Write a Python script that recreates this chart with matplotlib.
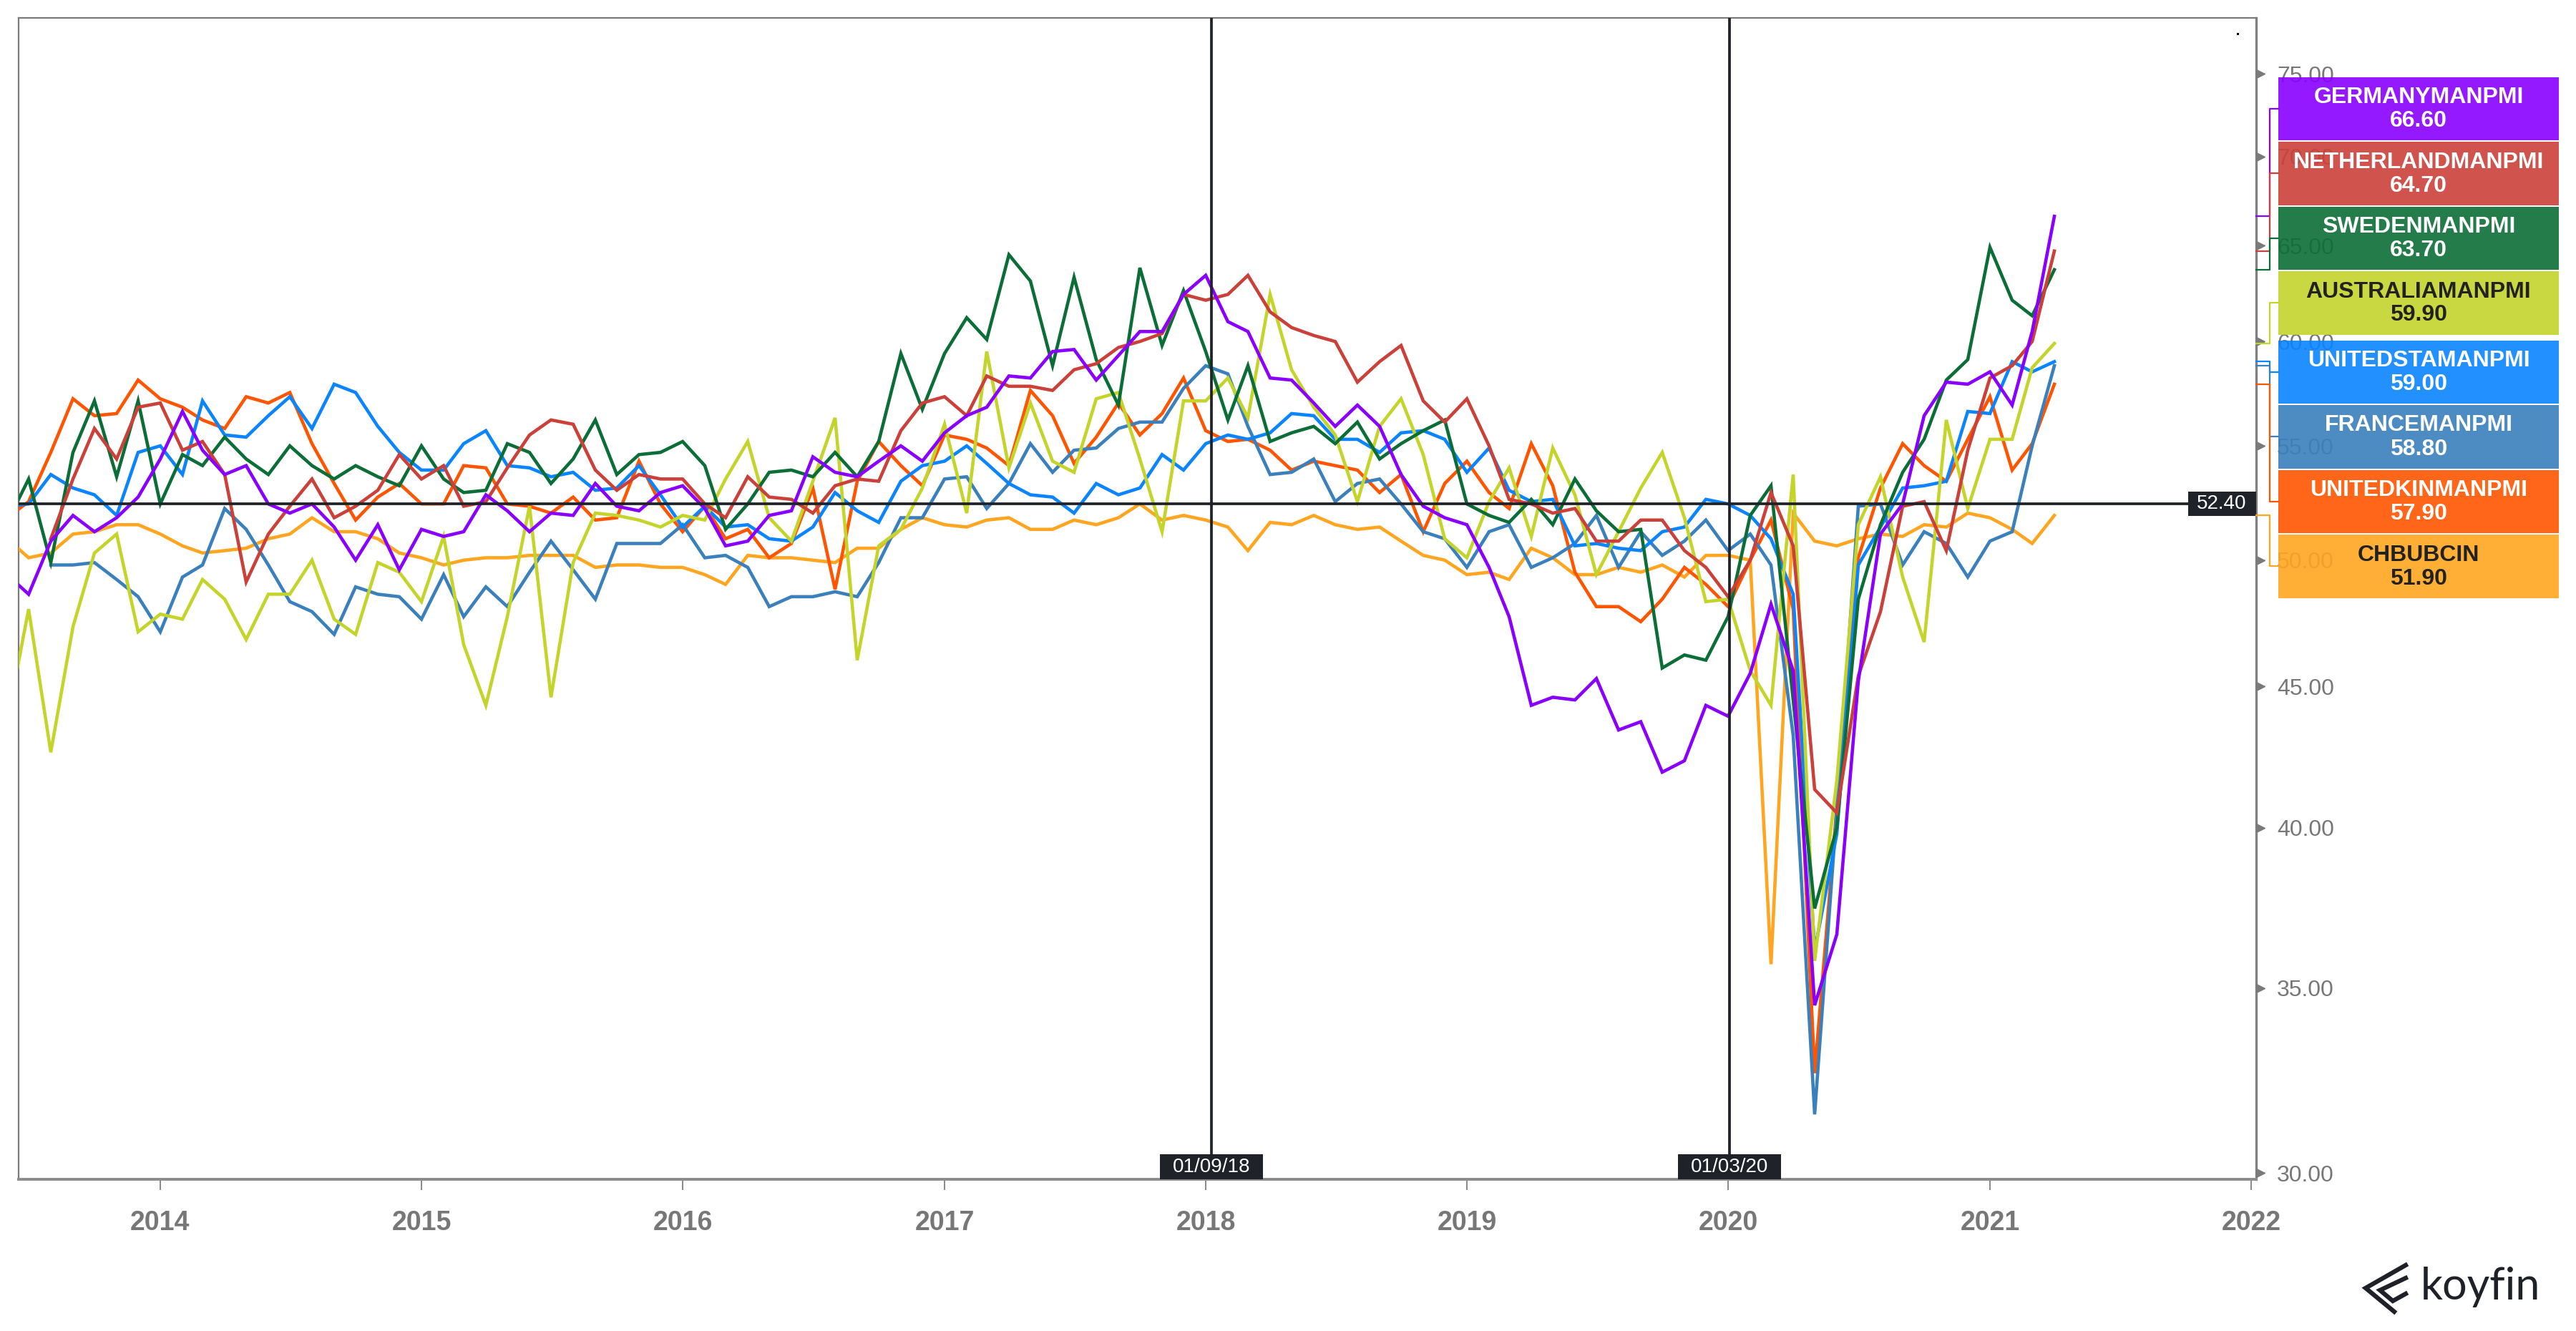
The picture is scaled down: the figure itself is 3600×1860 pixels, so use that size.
import matplotlib
matplotlib.use("Agg")
import matplotlib.pyplot as plt
import matplotlib.dates as mdates
import matplotlib.transforms as mtransforms
from matplotlib.patches import Rectangle
from matplotlib.lines import Line2D
from matplotlib.ticker import NullLocator
import numpy as np
import pandas as pd

plt.rcParams['font.family'] = ['Liberation Sans', 'DejaVu Sans']

W, H = 3600, 1860
nan = np.nan

# monthly readings, Jun 2013 .. Apr 2021
months = pd.date_range('2013-06-01', '2021-04-01', freq='MS')

germany = [49.4, 48.6, 50.8, 51.9, 51.2, 51.8, 52.7,
           54.4, 56.6, 54.8, 53.7, 54.1, 52.4, 52.0, 52.4, 51.4, 50.0, 51.5, 49.6,
           51.3, 51.0, 51.2, 52.8, 52.1, 51.2, 52.0, 51.9, 53.3, 52.3, 52.1, 52.9,
           53.2, 52.2, 50.6, 50.8, 51.9, 52.1, 54.5, 53.8, 53.6, 54.3, 55.0, 54.3,
           55.6, 56.4, 56.8, 58.3, 58.2, 59.5, 59.6, 58.1, 59.3, 60.5, 60.5, 62.4,
           63.4, 61.0, 60.5, 58.2, 58.1, 57.0, 55.9, 56.9, 55.9, 53.7, 52.3, 51.8,
           51.5, 49.7, 47.7, 44.3, 44.6, 44.5, 45.3, 43.4, 43.7, 41.9, 42.3, 44.3,
           43.9, 45.5, 48.2, 45.6, 34.5, 36.6, 45.2, 51.1, 52.4, 56.4, 58.0, 57.9,
           58.5, 56.9, 60.5, 66.6]

netherlands = [nan, nan, 50.9, 53.5, 55.8, 54.4, 56.8,
               57.0, 54.8, 55.2, 53.7, 49.1, 51.1, 52.3, 53.5, 51.8, 52.3, 53.0, 54.6,
               53.5, 54.1, 52.3, 52.5, 54.0, 55.5, 56.2, 56.0, 53.9, 53.0, 53.7, 53.5,
               53.5, 52.4, 51.8, 53.6, 52.7, 52.6, 52.0, 53.2, 53.5, 53.4, 55.7, 57.0,
               57.3, 56.4, 58.3, 57.8, 57.8, 57.6, 58.6, 58.9, 59.7, 60.0, 60.4, 62.4,
               62.1, 62.4, 63.4, 61.5, 60.7, 60.3, 60.0, 58.0, 59.0, 59.8, 57.1, 56.1,
               57.2, 55.0, 52.6, 52.4, 52.0, 52.2, 50.8, 50.8, 51.7, 51.7, 50.4, 49.7,
               48.5, 50.0, 52.9, 50.6, 41.3, 40.5, 45.4, 47.9, 52.3, 52.5, 50.4, 54.8,
               58.2, 58.8, 60.0, 64.7]

sweden = [51.6, 53.5, 49.9, 54.7, 57.1, 53.6, 57.1,
          52.4, 54.6, 54.1, 55.4, 54.4, 53.7, 55.0, 54.1, 53.5, 54.1, 53.6, 53.2,
          55.0, 53.5, 52.9, 53.0, 55.1, 54.7, 53.3, 54.4, 56.2, 53.7, 54.6, 54.7,
          55.2, 54.1, 51.3, 52.4, 53.8, 53.9, 53.6, 54.7, 53.6, 55.2, 59.4, 56.7,
          59.4, 61.2, 60.1, 64.5, 63.1, 58.8, 63.3, 59.1, 56.9, 63.8, 59.8, 62.6,
          59.5, 56.2, 58.8, 55.2, 55.6, 55.9, 55.1, 56.1, 54.4, 55.1, 55.7, 56.2,
          52.4, 51.9, 51.6, 52.6, 51.5, 53.5, 52.1, 51.2, 51.3, 45.7, 46.2, 46.0,
          47.7, 51.9, 53.2, 44.5, 37.4, 40.0, 48.4, 51.5, 53.8, 55.3, 58.1, 59.1,
          64.9, 62.1, 61.3, 63.7]

australia = [43.7, 48.0, 42.6, 47.3, 50.3, 51.1, 47.1,
             47.8, 47.6, 49.2, 48.4, 46.8, 48.6, 48.6, 50.0, 47.6, 47.0, 49.9, 49.5,
             48.3, 51.0, 46.6, 44.3, 47.7, 52.3, 44.6, 49.9, 52.0, 51.9, 51.7, 51.4,
             51.9, 51.7, 53.5, 55.2, 51.8, 50.8, 53.4, 56.3, 46.0, 50.6, 51.3, 53.1,
             56.0, 52.0, 59.5, 54.0, 57.0, 54.3, 53.8, 57.2, 57.5, 54.4, 51.2, 57.1,
             57.1, 58.2, 56.3, 62.4, 58.6, 56.8, 55.5, 52.5, 55.9, 57.2, 54.6, 50.9,
             50.1, 52.5, 54.0, 51.0, 54.9, 52.8, 49.4, 51.2, 53.1, 54.7, 51.8, 48.3,
             48.4, 45.6, 44.3, 53.7, 35.8, 41.6, 51.5, 53.6, 49.3, 46.7, 56.2, 52.2,
             55.3, 55.3, 58.7, 59.9]

unitedstates = [52.3, 52.4, 53.7, 53.1, 52.8, 51.9, 54.7,
                55.0, 53.7, 57.1, 55.5, 55.4, 56.4, 57.3, 55.8, 57.9, 57.5, 55.9, 54.7,
                53.9, 53.9, 55.1, 55.7, 54.1, 54.0, 53.6, 53.8, 53.0, 53.1, 54.1, 52.8,
                51.4, 52.3, 51.4, 51.5, 50.9, 50.8, 51.4, 52.9, 52.1, 51.6, 53.4, 54.1,
                54.3, 55.0, 54.2, 53.3, 52.8, 52.7, 52.0, 53.3, 52.8, 53.1, 54.6, 53.9,
                55.1, 55.5, 55.3, 55.6, 56.5, 56.4, 55.3, 55.3, 54.7, 55.6, 55.7, 55.3,
                53.8, 54.9, 53.0, 52.5, 52.6, 50.6, 50.7, 50.5, 50.4, 51.2, 51.4, 52.6,
                52.4, 51.9, 50.9, 48.6, 36.1, 39.8, 49.8, 51.4, 53.1, 53.2, 53.4, 56.6,
                56.5, 59.0, 58.5, 59.0]

france = [nan, nan, 49.8, 49.8, 49.9, 49.2, 48.5,
          47.1, 49.3, 49.8, 52.2, 51.3, 49.8, 48.3, 47.9, 47.0, 48.9, 48.6, 48.5,
          47.6, 49.4, 47.7, 48.9, 48.1, 49.5, 50.8, 49.6, 48.4, 50.7, 50.7, 50.7,
          51.5, 50.1, 50.2, 49.7, 48.1, 48.5, 48.5, 48.7, 48.5, 49.9, 51.8, 51.8,
          53.5, 53.6, 52.2, 53.3, 55.1, 53.8, 54.8, 54.9, 55.8, 56.1, 56.1, 57.7,
          58.8, 58.4, 55.9, 53.7, 53.8, 54.4, 52.5, 53.3, 53.5, 52.4, 51.2, 50.9,
          49.7, 51.2, 51.5, 49.7, 50.1, 50.7, 51.9, 49.7, 51.2, 50.2, 50.8, 51.7,
          50.4, 51.1, 49.8, 43.2, 31.5, 40.6, 52.3, 52.4, 49.8, 51.2, 50.7, 49.3,
          50.8, 51.2, 55.0, 58.8]

unitedkingdom = [51.8, 52.5, 54.7, 57.2, 56.4, 56.5, 58.1,
                 57.2, 56.8, 56.2, 55.8, 57.3, 57.0, 57.5, 55.1, 53.3, 51.7, 52.7, 53.3,
                 52.4, 52.4, 54.1, 54.0, 52.4, 52.3, 52.0, 52.7, 51.7, 51.8, 54.3, 52.4,
                 51.2, 52.3, 50.9, 51.3, 50.1, 50.7, 53.1, 48.8, 53.4, 55.2, 54.1, 53.2,
                 55.5, 55.3, 54.9, 54.1, 57.6, 56.4, 54.2, 55.4, 57.0, 55.5, 56.5, 58.2,
                 55.7, 55.2, 55.3, 54.8, 53.9, 54.3, 54.1, 53.9, 52.9, 53.7, 51.2, 53.3,
                 54.3, 52.9, 52.2, 55.1, 53.2, 49.5, 48.1, 48.1, 47.5, 48.4, 49.7, 49.0,
                 48.1, 50.0, 51.7, 48.0, 32.6, 40.7, 50.1, 53.1, 55.1, 54.1, 53.4, 55.3,
                 57.3, 53.9, 55.1, 57.9]

china = [50.9, 50.1, 50.3, 51.1, 51.2, 51.5, 51.5,
         51.1, 50.6, 50.3, 50.4, 50.5, 50.9, 51.1, 51.8, 51.2, 51.2, 50.9, 50.3,
         50.1, 49.8, 50.0, 50.1, 50.1, 50.2, 50.2, 50.2, 49.7, 49.8, 49.8, 49.7,
         49.7, 49.4, 49.0, 50.2, 50.1, 50.1, 50.0, 49.9, 50.5, 50.5, 51.3, 51.8,
         51.5, 51.4, 51.7, 51.8, 51.3, 51.3, 51.7, 51.5, 51.8, 52.4, 51.7, 51.9,
         51.7, 51.4, 50.4, 51.6, 51.5, 51.9, 51.5, 51.3, 51.4, 50.8, 50.2, 50.0,
         49.4, 49.5, 49.2, 50.5, 50.1, 49.4, 49.4, 49.7, 49.5, 49.8, 49.3, 50.2,
         50.2, 50.0, 35.7, 52.0, 50.8, 50.6, 50.9, 51.1, 51.0, 51.5, 51.4, 52.0,
         51.8, 51.3, 50.7, 51.9]

names = ['GERMANYMANPMI', 'NETHERLANDMANPMI', 'SWEDENMANPMI', 'AUSTRALIAMANPMI',
         'UNITEDSTAMANPMI', 'FRANCEMANPMI', 'UNITEDKINMANPMI', 'CHBUBCIN']
series = [germany, netherlands, sweden, australia, unitedstates, france,
          unitedkingdom, china]
colors = ['#8a00ff', '#cb4039', '#0c6e37', '#c4d42b',
          '#0a84ff', '#3a80bd', '#ff5500', '#ffa520']
label_text = ['white', 'white', 'white', '#222222',
              'white', 'white', 'white', '#222222']

ref_level = 52.40
marker_dates = ['2018-01-09', '2020-01-03']
marker_labels = ['01/09/18', '01/03/20']
years = list(range(2014, 2023))
y_ticks = [30, 35, 40, 45, 50, 55, 60, 65, 70, 75]

for s in series:
    assert len(s) == len(months)

fig = plt.figure(figsize=(W / 100, H / 100), dpi=100)


def frac_rect(x0, y0, x1, y1):
    # pixel box (top-left origin) -> figure fraction
    return [x0 / W, 1 - y1 / H, (x1 - x0) / W, (y1 - y0) / H]


ax = fig.add_axes(frac_rect(26, 25, 3153, 1648))
ax.set_yscale('log')
ax.set_ylim(29.84, 78.58)
ax.set_xlim(pd.Timestamp('2013-06-17'), pd.Timestamp('2022-01-08'))

for vals, c in zip(series[::-1], colors[::-1]):
    ax.plot(months, vals, color=c, lw=3.3, solid_joinstyle='miter', zorder=3)

ax.axhline(ref_level, color='#1f2329', lw=2.7, zorder=4)
for d in marker_dates:
    ax.axvline(pd.Timestamp(d), color='#1f2329', lw=2.7, zorder=4)

# axes styling
ax.yaxis.tick_right()
ax.set_yticks(y_ticks)
ax.set_yticklabels([f'{v:.2f}' for v in y_ticks])
ax.yaxis.set_minor_locator(NullLocator())
ax.tick_params(axis='y', length=0, pad=21, labelsize=23, labelcolor='#777777')
ax.set_xticks([pd.Timestamp(f'{y}-01-01') for y in years])
ax.set_xticklabels([str(y) for y in years], fontweight='bold')
ax.tick_params(axis='x', length=11, width=1.4, color='#888888', pad=20,
               labelsize=27, labelcolor='#777777')
for side in ['left', 'top']:
    ax.spines[side].set_color('#7a7a7a')
    ax.spines[side].set_linewidth(1.6)
ax.spines['right'].set_color('#808080')
ax.spines['right'].set_linewidth(2.4)
ax.spines['bottom'].set_color('#8c8c8c')
ax.spines['bottom'].set_linewidth(2.8)

tri = mtransforms.offset_copy(ax.get_yaxis_transform(), fig=fig, x=4.5, units='points')
ax.plot([1] * len(y_ticks), y_ticks, ls='none', marker='>', ms=9,
        color='#7a7a7a', transform=tri, clip_on=False, zorder=5)


def py(v):
    return H - ax.transData.transform((0, v))[1]


def px(d):
    return ax.transData.transform((mdates.date2num(pd.Timestamp(d)), ref_level))[0]


def fig_box(x0, y0, x1, y1, fc, alpha=1.0, z=5):
    fig.add_artist(Rectangle((x0 / W, 1 - y1 / H), (x1 - x0) / W, (y1 - y0) / H,
                             transform=fig.transFigure, fc=fc, ec='none',
                             alpha=alpha, zorder=z))


def fig_text(x, y, s, **kw):
    fig.text(x / W, 1 - y / H, s, ha='center', va='center', zorder=7, **kw)


# reference level tag
yr = py(ref_level)
fig_box(3058, yr - 17, 3153, yr + 17, '#1f2329')
fig_text(3105, yr, f'{ref_level:.2f}', color='white', fontsize=20)

# date tags on the vertical markers
for d, lab in zip(marker_dates, marker_labels):
    xc = px(d)
    fig_box(xc - 72, 1613, xc + 72, 1648, '#1f2329')
    fig_text(xc, 1631, lab, color='white', fontsize=20)

# last-value tags on the right
box_tops = [107, 197.5, 288, 378.5, 475, 565.5, 656, 746.5]
box_h = 90
for name, vals, c, tc, top in zip(names, series, colors, label_text, box_tops):
    last = vals[-1]
    yv = py(last)
    yc = top + box_h / 2
    fig.add_artist(Line2D([3153 / W, 3172 / W, 3172 / W, 3184 / W],
                          [1 - yv / H, 1 - yv / H, 1 - yc / H, 1 - yc / H],
                          transform=fig.transFigure, color=c, lw=1.6, zorder=5))
    fig_box(3184, top + 0.6, 3576, top + box_h - 0.6, c, alpha=0.9)
    fig_text(3380, yc - 16, name, color=tc, fontsize=23, fontweight='bold')
    fig_text(3380, yc + 17, f'{last:.2f}', color=tc, fontsize=23, fontweight='bold')

# small stray dot top right of plot
fig.add_artist(Rectangle((3126 / W, 1 - 49 / H), 3 / W, 3 / H,
                         transform=fig.transFigure, fc='black', ec='none'))

# koyfin mark
logo_c = '#1e2228'
fig.add_artist(Line2D([3362 / W, 3306 / W, 3346 / W],
                      [1 - 1768 / H, 1 - 1800 / H, 1 - 1833 / H],
                      transform=fig.transFigure, color=logo_c, lw=4.5,
                      solid_joinstyle='miter'))
fig.add_artist(Line2D([3362 / W, 3326 / W, 3344 / W, 3362 / W],
                      [1 - 1786 / H, 1 - 1803 / H, 1 - 1818 / H, 1 - 1808 / H],
                      transform=fig.transFigure, color=logo_c, lw=4.5,
                      solid_joinstyle='miter'))
fig.text(3383 / W, 1 - 1798 / H, 'koyfin', ha='left', va='center',
         fontsize=44, color=logo_c, family=['Lato', 'DejaVu Sans'])

fig.savefig('out.png', dpi=100, facecolor='white')
